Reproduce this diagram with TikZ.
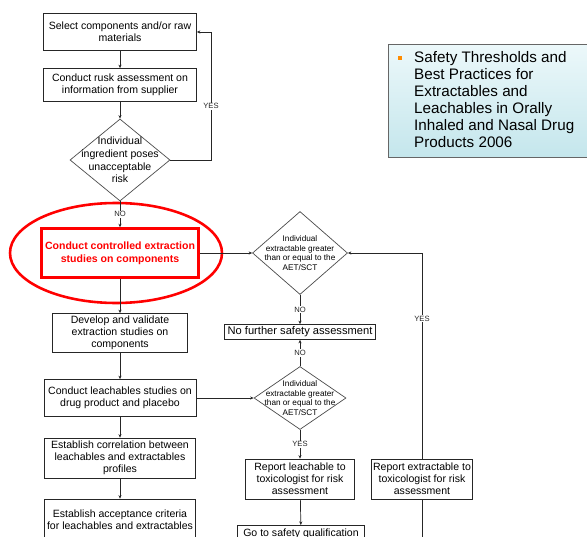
\documentclass[tikz,border=0pt]{standalone}
\usepackage{fontspec}
\setmainfont{Liberation Sans}
\usetikzlibrary{shapes.geometric, arrows.meta, positioning}

\begin{document}
\begin{tikzpicture}[
    x=0.03cm, y=-0.03cm,
    stepbox/.style = {
        draw=black!85, line width=0.6pt, fill=white,
        font=\fontsize{9}{10.4}\selectfont, align=center, inner sep=1pt
    },
    decision/.style = {
        diamond, draw=black!70, line width=0.6pt,
        align=center, inner sep=-12pt
    },
    hotbox/.style = {
        draw=red, line width=2.6pt, fill=white, text=red,
        font=\fontsize{9}{11}\selectfont\bfseries, align=center
    },
    hilite/.style = {ellipse, draw=red, line width=2.2pt},
    lbl/.style = {fill=white, inner sep=0.8pt, font=\fontsize{6.5}{7}\selectfont},
    arr/.style = {-{Stealth[length=3pt, width=2.6pt]}, line width=0.6pt, black!85},
    link/.style = {line width=0.6pt, black!85},
]

\useasboundingbox (0,0) rectangle (587,537);
\fill[white] (0,0) rectangle (587,537);
\clip (0,0) rectangle (587,537);

%% ── Left column ──────────────────────────────────────────────────────
\node[stepbox, minimum width=4.59cm, minimum height=1.11cm]
  (sel) at (120,32) {Select components and/or raw\\materials};
\node[stepbox, minimum width=4.59cm, minimum height=0.99cm]
  (risk) at (120,85) {Conduct rusk assessment on\\information from supplier};
\node[decision, font=\fontsize{9}{10.8}\selectfont,
      minimum width=3.0cm, minimum height=2.46cm]
  (ingr) at (120,160) {Individual\\ingredient poses\\unacceptable\\risk};

%% highlighted step
\node[hilite, minimum width=6.36cm, minimum height=3.0cm] (ring) at (116,253) {};
\node[hotbox, minimum width=4.55cm, minimum height=1.45cm]
  (ctrl) at (120,253) {Conduct controlled extraction\\studies on components};

\node[stepbox, minimum width=4.05cm, minimum height=1.17cm]
  (dev) at (120,333) {Develop and validate\\extraction studies on\\components};
\node[stepbox, minimum width=4.56cm, minimum height=1.11cm]
  (leach) at (120,398) {Conduct leachables studies on\\drug product and placebo};
\node[stepbox, minimum width=4.53cm, minimum height=1.2cm]
  (corr) at (120,458) {Establish correlation between\\leachables and extractables\\profiles};
\node[stepbox, minimum width=4.53cm, minimum height=1.26cm]
  (accept) at (120,520) {Establish acceptance criteria\\for leachables and extractables};

%% ── Middle and right columns ─────────────────────────────────────────
\node[decision, font=\fontsize{7}{8.2}\selectfont,
      minimum width=2.85cm, minimum height=2.49cm]
  (extr) at (300,253) {Individual\\extractable greater\\than or equal to the\\AET/SCT};
\node[stepbox, font=\fontsize{9.5}{11}\selectfont,
      minimum width=4.53cm, minimum height=0.45cm]
  (nosafe) at (300,332) {No further safety assessment};
\node[decision, font=\fontsize{7}{8.2}\selectfont,
      minimum width=2.76cm, minimum height=1.89cm]
  (leachq) at (300,398) {Individual\\extractable greater\\than or equal to the\\AET/SCT};
\node[stepbox, minimum width=3.27cm, minimum height=1.2cm]
  (repl) at (300,479) {Report leachable to\\toxicologist for risk\\assessment};
\node[stepbox, minimum width=3.03cm, minimum height=1.2cm]
  (repe) at (422,479) {Report extractable to\\toxicologist for risk\\assessment};
\node[stepbox, anchor=north, minimum width=3.81cm, inner ysep=3pt]
  (golq) at (301,525) {Go to safety qualification};

\coordinate (loop) at (211,32);
\coordinate (down) at (422,560);

%% ── Reference box ────────────────────────────────────────────────────
\node[draw=black!60, line width=1pt, anchor=north west,
      top color={rgb,255:red,236;green,248;blue,250},
      bottom color={rgb,255:red,196;green,230;blue,236},
      minimum width=6.3cm, minimum height=3.39cm]
  (refbox) at (388,44) {};
\node[anchor=north west, align=left, inner sep=0pt,
      font=\fontsize{13}{14.6}\selectfont]
  (reftxt) at (414,51)
  {Safety Thresholds and\\Best Practices for\\Extractables and\\Leachables in Orally\\Inhaled and Nasal Drug\\Products 2006};
\node[fill=orange!90!yellow, minimum size=3.5pt, inner sep=0pt] (blt) at (400,58) {};

%% ── Arrows ───────────────────────────────────────────────────────────
\draw[arr] (sel) -- (risk);
\draw[arr] (risk) -- (ingr);
\draw[arr] (ingr.east) -| node[lbl, pos=0.71] {YES} (loop) -- (sel.east);
\draw[arr] (ingr) -- node[lbl] {NO} (ctrl);
\draw[arr] (ctrl) -- (dev);
\draw[arr] (dev) -- (leach);
\draw[arr] (leach) -- (corr);
\draw[arr] (corr) -- (accept);

\draw[arr] (ctrl.east) -- (extr.west);
\draw[arr] (extr) -- node[lbl] {NO} (nosafe);
\draw[arr] (leachq) -- node[lbl] {NO} (nosafe);
\draw[arr] (leach.east) -- (leachq.west);
\draw[arr] (leachq) -- node[lbl] {YES} (repl);
\draw[arr] (repl) -- (golq);
\draw[arr] (repe.north) |- node[lbl, pos=0.34] {YES} (extr.east);
\draw[link] (repe.south) -- (down);

\end{tikzpicture}
\end{document}
